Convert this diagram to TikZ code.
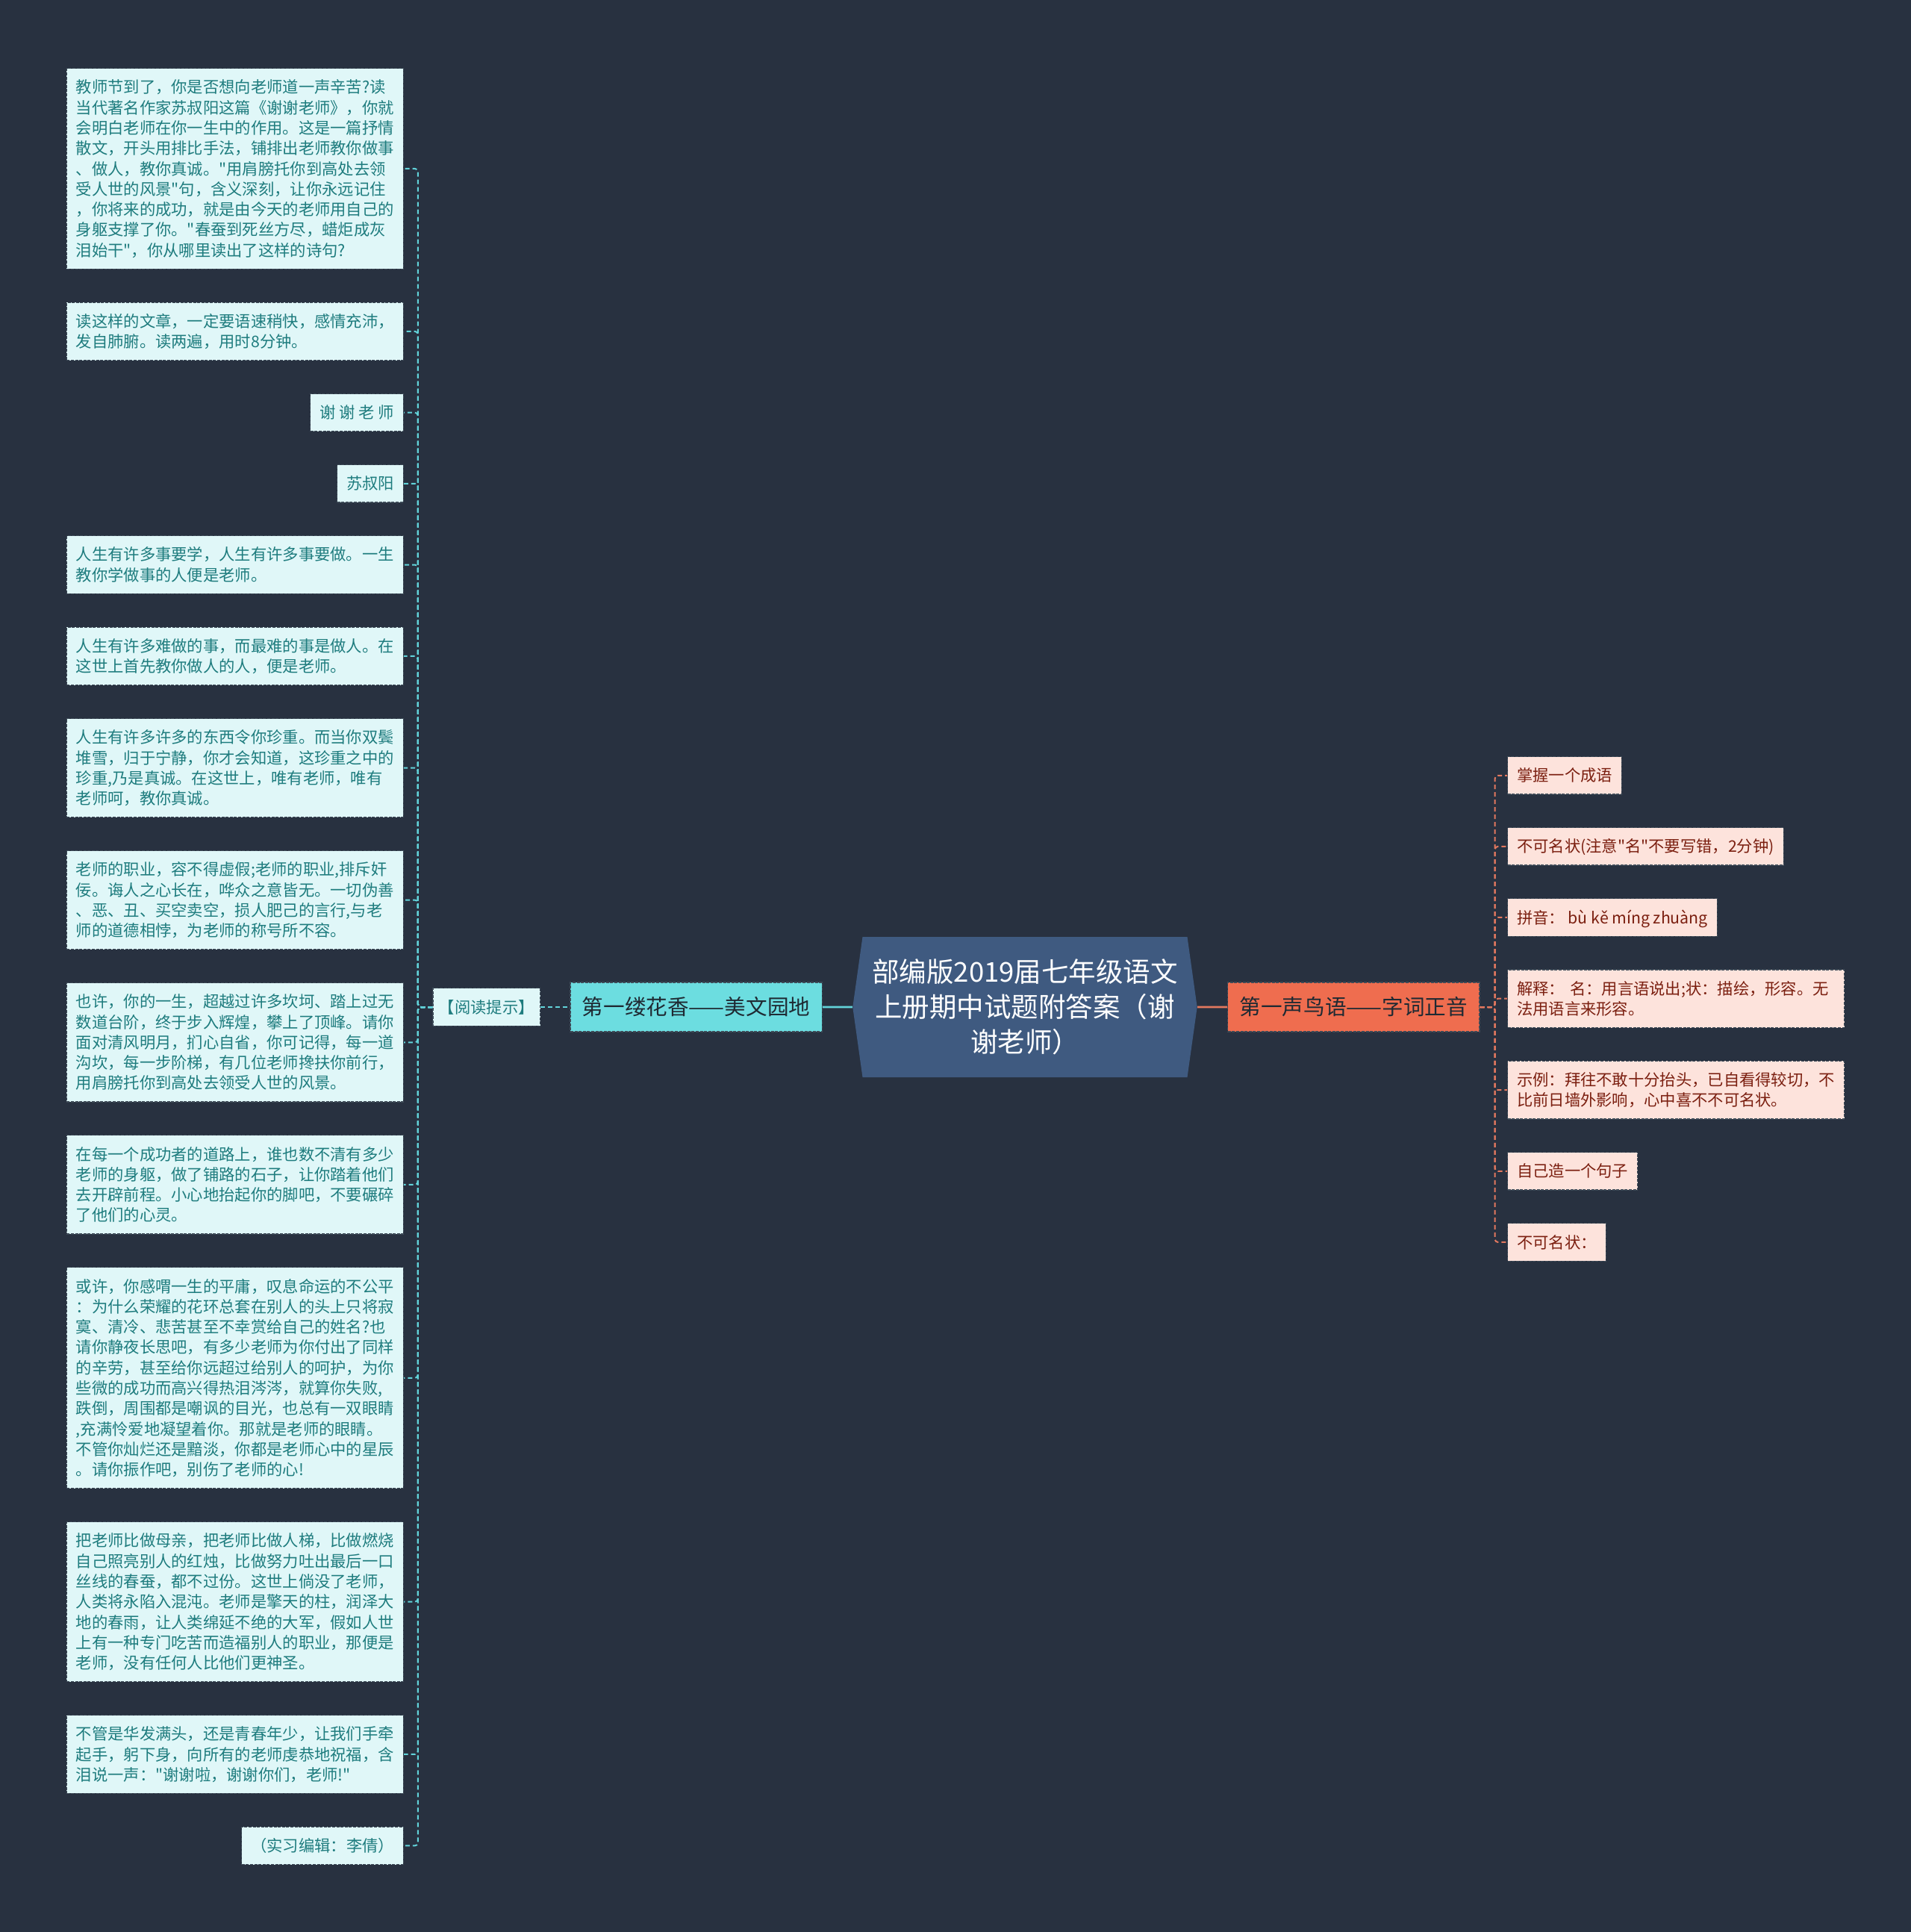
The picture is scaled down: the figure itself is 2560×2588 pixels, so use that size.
\documentclass[tikz,border=0pt]{standalone}
\usepackage{fontspec}
\newfontfamily\cjk{Noto Sans CJK SC}
\usetikzlibrary{positioning, shapes.symbols}

\definecolor{bgcol}{HTML}{283140}
\definecolor{lfill}{HTML}{E0F7F8}
\definecolor{ltext}{HTML}{1E7C7E}
\definecolor{boxline}{HTML}{3D4A57}
\definecolor{cyanline}{HTML}{62D3DA}
\definecolor{cyanfill}{HTML}{6CDDE0}
\definecolor{titlefill}{HTML}{3F5A80}
\definecolor{coralfill}{HTML}{EF6D4F}
\definecolor{coralline}{HTML}{E3785F}
\definecolor{rfill}{HTML}{FDE3DC}
\definecolor{rtext}{HTML}{7B1F10}
\definecolor{darktext}{HTML}{1F2A33}

\newcommand{\lstrut}{\rule[-2.78pt]{0pt}{13.65pt}}
\newcommand{\leaffont}{\cjk\fontsize{10.65pt}{13.65pt}\selectfont}

\tikzset{
  every node/.style={font=\leaffont},
  dashbox/.style={draw=boxline, line width=0.6pt, dash pattern=on 2pt off 0.8pt},
  leaf/.style={dashbox, inner xsep=6.25pt, inner ysep=5.75pt,
    execute at begin node=\noindent\lstrut, execute at end node=\lstrut},
  lleaf/.style={leaf, fill=lfill, text=ltext},
  rleaf/.style={leaf, fill=rfill, text=rtext},
  wide/.style={text width=213pt, align=left},
  lbelow/.style={below=21.8pt of #1.south east, anchor=north east},
  rbelow/.style={below=21.8pt of #1.south west, anchor=north west},
  branch/.style={dashbox, font=\cjk\fontsize{14.3pt}{17pt}\selectfont, text=darktext,
    inner xsep=8pt, inner ysep=0pt, minimum height=33pt},
  title/.style={shape=signal, signal to=east and west, signal pointer angle=164,
    fill=titlefill, text=white, font=\cjk\fontsize{18.25pt}{23.5pt}\selectfont,
    text width=210pt, align=center, inner xsep=3.75pt, inner ysep=0pt, minimum height=94pt},
  llink/.style={draw=cyanline, line width=1pt, dash pattern=on 3pt off 2pt, rounded corners=2pt},
  rlink/.style={draw=coralline, line width=1pt, dash pattern=on 3pt off 2pt, rounded corners=2pt}
}

\begin{document}
\begin{tikzpicture}[x=0.5pt, y=-0.5pt]
    \useasboundingbox (0,0) rectangle (2560,2588);
    \fill[bgcol] (0,0) rectangle (2560,2588);

    \node [title] (title) at (1373,1349) {部编版2019届七年级语文\\上册期中试题附答案（谢\\谢老师）};
    \node [branch, fill=cyanfill, left=20pt of title] (lb) {第一缕花香——美文园地};
    \node [lleaf, inner xsep=4pt, left=19.5pt of lb] (hint) {【阅读提示】};
    \node [branch, fill=coralfill, right=20pt of title] (rb) {第一声鸟语——字词正音};

    \node [lleaf, wide, anchor=north east] (l1) at (541,91) {教师节到了，你是否想向老师道一声辛苦?读\\当代著名作家苏叔阳这篇《谢谢老师》，你就\\会明白老师在你一生中的作用。这是一篇抒情\\散文，开头用排比手法，铺排出老师教你做事\\、做人，教你真诚。"用肩膀托你到高处去领\\受人世的风景"句，含义深刻，让你永远记住\\，你将来的成功，就是由今天的老师用自己的\\身躯支撑了你。"春蚕到死丝方尽，蜡炬成灰\\泪始干"，你从哪里读出了这样的诗句?};
    \node [lleaf, wide, lbelow=l1] (l2) {读这样的文章，一定要语速稍快，感情充沛，\\发自肺腑。读两遍，用时8分钟。};
    \node [lleaf, lbelow=l2] (l3) {谢 谢 老 师};
    \node [lleaf, lbelow=l3] (l4) {苏叔阳};
    \node [lleaf, wide, lbelow=l4] (l5) {人生有许多事要学，人生有许多事要做。一生\\教你学做事的人便是老师。};
    \node [lleaf, wide, lbelow=l5] (l6) {人生有许多难做的事，而最难的事是做人。在\\这世上首先教你做人的人，便是老师。};
    \node [lleaf, wide, lbelow=l6] (l7) {人生有许多许多的东西令你珍重。而当你双鬓\\堆雪，归于宁静，你才会知道，这珍重之中的\\珍重,乃是真诚。在这世上，唯有老师，唯有\\老师呵，教你真诚。};
    \node [lleaf, wide, lbelow=l7] (l8) {老师的职业，容不得虚假;老师的职业,排斥奸\\佞。诲人之心长在，哗众之意皆无。一切伪善\\、恶、丑、买空卖空，损人肥己的言行,与老\\师的道德相悖，为老师的称号所不容。};
    \node [lleaf, wide, lbelow=l8] (l9) {也许，你的一生，超越过许多坎坷、踏上过无\\数道台阶，终于步入辉煌，攀上了顶峰。请你\\面对清风明月，扪心自省，你可记得，每一道\\沟坎，每一步阶梯，有几位老师搀扶你前行，\\用肩膀托你到高处去领受人世的风景。};
    \node [lleaf, wide, lbelow=l9] (l10) {在每一个成功者的道路上，谁也数不清有多少\\老师的身躯，做了铺路的石子，让你踏着他们\\去开辟前程。小心地抬起你的脚吧，不要碾碎\\了他们的心灵。};
    \node [lleaf, wide, lbelow=l10] (l11) {或许，你感喟一生的平庸，叹息命运的不公平\\：为什么荣耀的花环总套在别人的头上只将寂\\寞、清冷、悲苦甚至不幸赏给自己的姓名?也\\请你静夜长思吧，有多少老师为你付出了同样\\的辛劳，甚至给你远超过给别人的呵护，为你\\些微的成功而高兴得热泪涔涔，就算你失败,\\跌倒，周围都是嘲讽的目光，也总有一双眼睛\\,充满怜爱地凝望着你。那就是老师的眼睛。\\不管你灿烂还是黯淡，你都是老师心中的星辰\\。请你振作吧，别伤了老师的心!};
    \node [lleaf, wide, lbelow=l11] (l12) {把老师比做母亲，把老师比做人梯，比做燃烧\\自己照亮别人的红烛，比做努力吐出最后一口\\丝线的春蚕，都不过份。这世上倘没了老师，\\人类将永陷入混沌。老师是擎天的柱，润泽大\\地的春雨，让人类绵延不绝的大军，假如人世\\上有一种专门吃苦而造福别人的职业，那便是\\老师，没有任何人比他们更神圣。};
    \node [lleaf, wide, lbelow=l12] (l13) {不管是华发满头，还是青春年少，让我们手牵\\起手，躬下身，向所有的老师虔恭地祝福，含\\泪说一声："谢谢啦，谢谢你们，老师!"};
    \node [lleaf, lbelow=l13] (l14) {（实习编辑：李倩）};

    \node [rleaf, anchor=north west] (r1) at (2019,1013) {掌握一个成语};
    \node [rleaf, rbelow=r1] (r2) {不可名状(注意"名"不要写错，2分钟)};
    \node [rleaf, rbelow=r2] (r3) {拼音： bù kě míng zhuàng};
    \node [rleaf, wide, rbelow=r3] (r4) {解释： 名：用言语说出;状：描绘，形容。无\\法用语言来形容。};
    \node [rleaf, wide, rbelow=r4] (r5) {示例：拜往不敢十分抬头，已自看得较切，不\\比前日墙外影响，心中喜不不可名状。};
    \node [rleaf, rbelow=r5] (r6) {自己造一个句子};
    \node [rleaf, rbelow=r6] (r7) {不可名状：};

    \draw [cyanline, line width=1.4pt] (lb) -- (title);
    \draw [llink] (hint) -- (lb);
    \foreach \i in {1,...,14}
      \draw [llink] (hint.west) -- ++(-9.75pt,0) |- (l\i.east);

    \draw [coralline, line width=1.4pt] (title) -- (rb);
    \foreach \i in {1,...,7}
      \draw [rlink] (rb.east) -- ++(10pt,0) |- (r\i.west);
\end{tikzpicture}
\end{document}
